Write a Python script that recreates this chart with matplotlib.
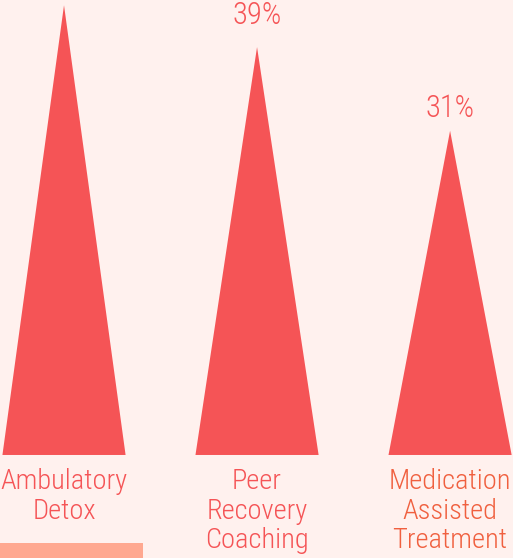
import matplotlib
matplotlib.use("Agg")
import matplotlib.pyplot as plt
from matplotlib import font_manager
from matplotlib.patches import Polygon, Rectangle

categories = ["Ambulatory\nDetox", "Peer\nRecovery\nCoaching", "Medication\nAssisted\nTreatment"]
values = [43, 39, 31]
value_labels = ["43%", "39%", "31%"]
label_colors = ["#F55456", "#F55456", "#F0603F"]
label_gaps = [17, 17, 8]

BG = "#FFF1EE"
TRI = "#F55456"
BAR = "#FFA890"

def pick_font():
    for name in ["Roboto Condensed", "Liberation Sans Narrow", "Roboto"]:
        try:
            font_manager.findfont(font_manager.FontProperties(family=name), fallback_to_default=False)
            return name
        except Exception:
            continue
    return "DejaVu Sans"

FONT = pick_font()
plt.rcParams['font.family'] = [FONT, 'DejaVu Sans']

fig = plt.figure(figsize=(5.13, 5.58), dpi=100, facecolor=BG)
ax = fig.add_axes([0, 0, 1, 1])
ax.set_facecolor(BG)
ax.set_xlim(-0.3316, 2.326)
ax.set_ylim(-9.85, 43.5)
ax.axis("off")

half = 0.319
for i, v in enumerate(values):
    tri = Polygon([(i - half, 0), (i + half, 0), (i, v)], closed=True,
                  facecolor=TRI, edgecolor="none")
    ax.add_patch(tri)
    ax.annotate(value_labels[i], xy=(i, v), xytext=(0, label_gaps[i]), textcoords="offset pixels",
                ha="center", va="bottom", fontsize=22, color=TRI, fontweight="light")
    ax.annotate(categories[i], xy=(i, 0), xytext=(0, -13), textcoords="offset pixels",
                ha="center", va="top", fontsize=20.5, color=label_colors[i],
                fontweight="light", linespacing=1.13)

fig.patches.append(Rectangle((0, 0), 143 / 513, 15 / 558, transform=fig.transFigure,
                             facecolor=BAR, edgecolor="none"))

fig.savefig("out.png", dpi=100, facecolor=BG)
